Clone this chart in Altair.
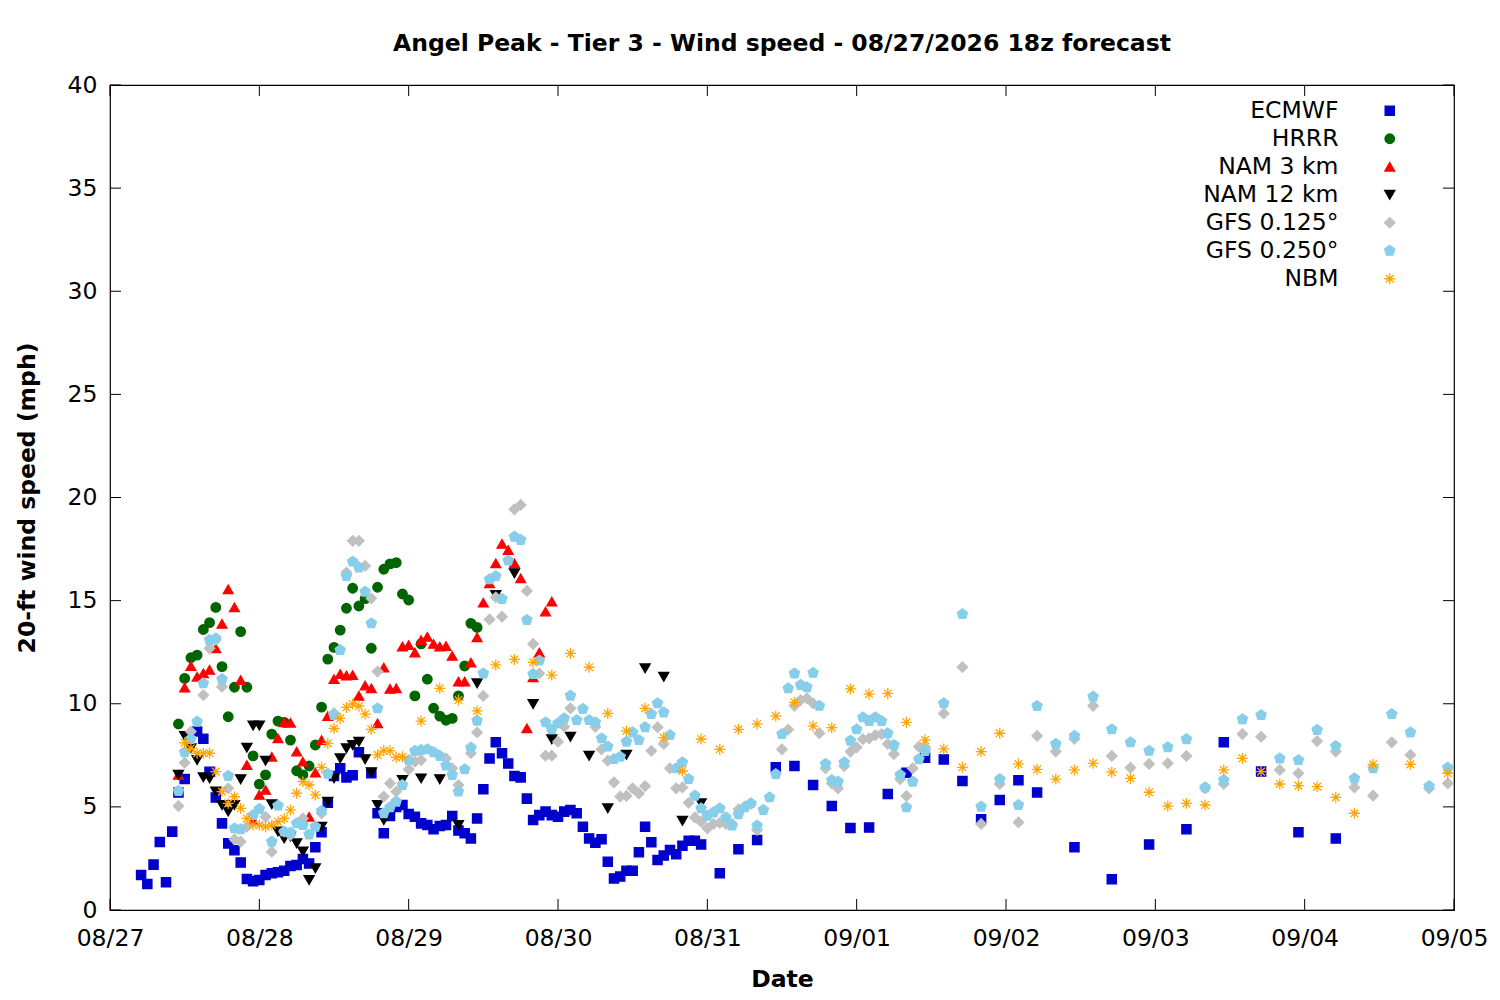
import pandas as pd
import altair as alt

# hours after 08/27 00z, 20-ft wind speed (mph)
series_names = ['ECMWF', 'HRRR', 'NAM 3 km', 'NAM 12 km', 'GFS 0.125°', 'GFS 0.250°', 'NBM']
series_colors = ['#0000cd', '#006400', '#ff0000', '#000000', '#c0c0c0', '#87ceeb', '#ffa500']

ecmwf_h = [5, 6, 7, 8, 9, 10, 11, 12, 14, 15, 16, 17, 18, 19, 20, 21, 22, 23, 24, 25, 26, 27, 28, 29, 30,
           31, 32, 33, 34, 35, 36, 37, 38, 39, 40, 42, 43, 44, 45, 46, 47, 48, 49, 50, 51, 52, 53, 54, 55,
           56, 57, 58, 59, 60, 61, 62, 63, 64, 65, 66, 67, 68, 69, 70, 71, 72, 73, 74, 75, 76, 77, 78, 79,
           80, 81, 82, 83, 84, 85, 86, 87, 88, 89, 90, 91, 92, 93, 94, 95, 98, 101, 104, 107, 110, 113, 116,
           119, 122, 125, 128, 131, 134, 137, 140, 143, 146, 149, 155, 161, 167, 173, 179, 185, 191, 197]
ecmwf_v = [1.7, 1.26, 2.2, 3.3, 1.35, 3.8, 5.7, 6.35, 8.65, 8.3, 6.7, 5.45, 4.2, 3.23, 2.9, 2.3, 1.5, 1.4,
           1.45, 1.7, 1.78, 1.83, 1.9, 2.13, 2.18, 2.47, 2.26, 3.04, 3.77, 5.2, 6.5, 6.87, 6.43, 6.53, 7.65,
           6.63, 4.69, 3.72, 4.56, 5.0, 5.09, 4.65, 4.52, 4.2, 4.12, 3.91, 4.07, 4.12, 4.56, 3.85, 3.72, 3.47,
           4.44, 5.85, 7.35, 8.13, 7.6, 7.1, 6.5, 6.43, 5.4, 4.36, 4.6, 4.77, 4.6, 4.52, 4.77, 4.85, 4.69,
           4.04, 3.47, 3.26, 3.43, 2.34, 1.53, 1.62, 1.9, 1.9, 2.8, 4.04, 3.28, 2.42, 2.64, 2.91, 2.7, 3.12,
           3.36, 3.36, 3.18, 1.78, 2.94, 3.39, 6.92, 6.98, 6.06, 5.04, 3.98, 4.0, 5.62, 6.66, 7.38, 7.3, 6.25,
           4.4, 5.33, 6.29, 5.7, 3.04, 1.49, 3.18, 3.91, 8.13, 6.71, 3.77, 3.47]

hrrr_h = [11, 12, 13, 14, 15, 16, 17, 18, 19, 20, 21, 22, 23, 24, 25, 26, 27, 28, 29, 30, 31, 32, 33, 34,
          35, 36, 37, 38, 39, 40, 41, 42, 43, 44, 45, 46, 47, 48, 49, 50, 51, 52, 53, 54, 55, 56, 57, 58, 59]
hrrr_v = [9.02, 11.23, 12.23, 12.36, 13.6, 13.93, 14.67, 11.8, 9.37, 10.8, 13.5, 10.8, 7.47, 6.1, 6.55,
          8.53, 9.16, 9.1, 8.24, 6.75, 6.55, 6.98, 8.0, 9.84, 12.16, 12.73, 13.57, 14.63, 15.6, 14.74, 15.1,
          12.69, 15.65, 16.52, 16.78, 16.84, 15.32, 15.03, 10.38, 12.9, 11.19, 9.78, 9.4, 9.2, 9.29, 10.38,
          11.83, 13.9, 13.7]

nam3_h = [11, 12, 13, 14, 15, 16, 17, 18, 19, 20, 21, 22, 23, 24, 25, 26, 27, 28, 29, 30, 31, 32, 33, 34,
          35, 36, 37, 38, 39, 40, 41, 42, 43, 44, 45, 46, 47, 48, 49, 50, 51, 52, 53, 54, 55, 56, 57, 58,
          59, 60, 61, 62, 63, 64, 65, 66, 67, 68, 69, 70, 71]
nam3_v = [6.55, 10.78, 11.83, 11.31, 11.47, 11.64, 12.69, 13.87, 15.55, 14.67, 11.15, 7.03, 4.36, 5.58,
          5.82, 7.43, 8.32, 9.1, 9.08, 7.68, 7.19, 4.52, 6.66, 8.24, 9.4, 11.19, 11.44, 11.37, 11.39, 10.38,
          10.88, 10.75, 9.05, 11.75, 10.72, 10.75, 12.77, 12.85, 12.48, 13.09, 13.25, 12.9, 12.77, 12.8,
          12.32, 11.07, 11.07, 12.0, 13.22, 14.9, 15.84, 16.81, 17.75, 17.45, 16.81, 16.08, 8.81, 11.28,
          12.48, 14.47, 14.95]

nam12_h = [11, 12, 13, 14, 15, 16, 17, 18, 19, 20, 21, 22, 23, 24, 25, 26, 27, 28, 29, 30, 31, 32, 33, 34,
           35, 36, 37, 38, 39, 40, 41, 42, 43, 44, 47, 50, 53, 56, 59, 62, 65, 68, 71, 74, 77, 80, 83, 86,
           89, 92, 95]
nam12_v = [6.55, 8.44, 7.84, 7.27, 6.43, 6.38, 5.74, 5.09, 4.77, 5.09, 6.34, 7.87, 8.94, 8.94, 7.24, 5.12,
           3.8, 3.47, 3.56, 3.23, 2.83, 1.45, 2.02, 4.04, 5.25, 6.38, 7.35, 7.84, 8.0, 8.16, 7.31, 6.68, 5.09,
           4.36, 6.3, 6.38, 6.34, 4.12, 10.99, 15.27, 16.32, 9.99, 8.28, 8.4, 7.48, 4.93, 7.52, 11.72, 11.31,
           4.33, 5.17]

gfs125_h = [11, 12, 13, 15, 16, 17, 18, 19, 20, 21, 22, 25, 26, 28, 29, 31, 34, 36, 38, 39, 40, 41, 42,
            43, 44, 45, 46, 48, 49, 50, 54, 55, 56, 58, 59, 60, 61, 62, 63, 65, 66, 67, 68, 69, 70, 71, 72,
            73, 74, 78, 79, 80, 81, 82, 83, 84, 85, 86, 87, 88, 89, 90, 91, 92, 93, 94, 95, 96, 97, 98, 99,
            100, 101, 102, 103, 104, 108, 109, 110, 111, 112, 113, 114, 115, 116, 117, 118, 119, 120, 121,
            122, 123, 124, 125, 126, 127, 128, 129, 130, 131, 134, 137, 140, 143, 146, 149, 152, 155, 158,
            161, 164, 167, 170, 173, 176, 179, 182, 185, 188, 191, 194, 197, 200, 203, 206, 209, 212, 215]
gfs125_v = [5.04, 7.14, 8.65, 10.42, 12.69, 13.1, 10.83, 5.9, 3.43, 3.31, 4.04, 4.52, 2.83, 3.8, 3.64,
            4.44, 4.69, 9.55, 16.36, 17.9, 17.9, 16.68, 15.11, 11.56, 5.5, 6.14, 5.74, 6.82, 7.19, 7.27,
            7.35, 6.87, 6.06, 7.6, 8.61, 10.38, 14.09, 15.16, 14.22, 19.43, 19.64, 15.47, 12.9, 11.47, 7.48,
            7.48, 8.16, 8.89, 9.78, 8.88, 7.79, 7.24, 6.19, 5.5, 5.53, 5.9, 5.65, 6.01, 7.72, 8.86, 8.05,
            6.87, 5.9, 5.94, 5.2, 4.49, 4.28, 3.96, 4.17, 4.23, 4.17, 4.17, 4.88, 5.01, 5.14, 3.88, 7.79,
            8.75, 9.9, 10.18, 10.26, 10.02, 8.57, 6.87, 6.14, 5.9, 6.98, 7.68, 7.89, 8.28, 8.32, 8.48, 8.53,
            8.05, 7.56, 6.34, 5.53, 6.87, 7.92, 7.9, 9.53, 11.77, 4.17, 6.11, 4.25, 8.44, 7.68, 8.3, 9.9,
            7.47, 6.9, 7.08, 7.11, 7.47, 5.9, 6.11, 8.53, 8.4, 6.79, 6.63, 8.19, 7.68, 5.94, 5.54, 8.13,
            7.52, 5.9, 6.14]

gfs250_h = [11, 12, 13, 14, 15, 16, 17, 18, 19, 20, 21, 23, 24, 26, 27, 28, 29, 30, 31, 32, 33, 34, 35,
            36, 37, 38, 39, 40, 41, 42, 43, 44, 45, 46, 47, 48, 49, 50, 51, 52, 53, 54, 55, 56, 57, 58, 59,
            60, 61, 62, 63, 64, 65, 66, 67, 68, 69, 70, 71, 72, 73, 74, 75, 76, 77, 78, 79, 80, 81, 82, 83,
            84, 85, 86, 87, 88, 89, 90, 91, 92, 93, 94, 95, 96, 97, 98, 99, 100, 101, 102, 103, 104, 105,
            106, 107, 108, 109, 110, 111, 112, 113, 114, 115, 116, 117, 118, 119, 120, 121, 122, 123, 124,
            125, 126, 127, 128, 129, 130, 131, 134, 137, 140, 143, 146, 149, 152, 155, 158, 161, 164, 167,
            170, 173, 176, 179, 182, 185, 188, 191, 194, 197, 200, 203, 206, 209, 212, 215]
gfs250_v = [5.77, 7.65, 8.29, 9.13, 10.99, 13.09, 13.17, 11.19, 6.5, 3.96, 3.91, 4.6, 4.9, 3.31, 5.06, 3.8,
            3.75, 4.2, 4.12, 3.66, 4.04, 4.81, 6.6, 9.45, 12.6, 16.19, 16.89, 16.61, 15.43, 13.9, 9.78,
            4.69, 4.98, 5.25, 6.06, 7.27, 7.71, 7.76, 7.79, 7.65, 7.47, 7.0, 6.55, 5.74, 6.82, 7.87, 9.18,
            11.47, 16.03, 16.19, 15.08, 16.94, 18.1, 17.94, 14.06, 11.44, 12.09, 9.1, 8.76, 9.05, 9.29,
            10.39, 9.21, 9.75, 9.21, 9.1, 8.32, 7.92, 7.32, 7.43, 8.16, 8.61, 8.24, 8.86, 9.5, 10.02, 9.58,
            8.48, 6.87, 7.16, 6.35, 5.54, 4.93, 4.57, 4.73, 4.93, 4.49, 4.09, 4.64, 4.98, 5.17, 4.09, 4.85,
            5.46, 6.59, 8.53, 10.75, 11.47, 10.91, 10.8, 11.5, 9.9, 7.08, 6.3, 6.22, 7.16, 8.21, 8.76, 9.34,
            9.16, 9.34, 9.16, 8.57, 8.0, 6.55, 4.98, 6.22, 7.31, 7.71, 10.02, 14.35, 5.01, 6.34, 5.09, 9.89,
            8.05, 8.44, 10.34, 8.76, 8.13, 7.72, 7.89, 8.28, 5.94, 6.3, 9.25, 9.45, 7.35, 7.27, 8.73, 7.95,
            6.38, 6.87, 9.5, 8.61, 6.01, 6.9]

nbm_h = [12, 13, 14, 15, 16, 17, 18, 19, 20, 21, 22, 23, 24, 25, 26, 27, 28, 29, 30, 31, 32, 33, 34, 35,
         36, 37, 38, 39, 40, 41, 42, 43, 44, 45, 46, 47, 50, 53, 56, 59, 62, 65, 68, 71, 74, 77, 80, 83, 86,
         89, 92, 95, 98, 101, 104, 107, 110, 113, 116, 119, 122, 125, 128, 131, 134, 137, 140, 143, 146,
         149, 152, 155, 158, 161, 164, 167, 170, 173, 176, 179, 182, 185, 188, 191, 194, 197, 200, 203,
         209, 215]
nbm_v = [8.11, 7.84, 7.6, 7.6, 7.6, 6.71, 5.74, 5.17, 5.49, 4.93, 4.44, 4.12, 4.12, 4.04, 4.12, 4.28, 4.44,
         4.85, 5.66, 6.22, 6.06, 5.58, 6.92, 8.08, 8.8, 9.29, 9.82, 9.99, 9.89, 9.5, 8.76, 7.52, 7.72, 7.72,
         7.4, 7.43, 9.16, 10.75, 10.18, 9.65, 11.88, 12.15, 12.01, 11.39, 12.44, 11.77, 9.53, 8.68, 9.78,
         8.36, 6.74, 8.29, 7.79, 8.76, 9.02, 9.4, 10.07, 8.92, 8.84, 10.72, 10.47, 10.5, 9.1, 8.24, 7.81,
         6.92, 7.68, 8.57, 7.08, 6.82, 6.35, 6.79, 7.11, 6.68, 6.38, 5.71, 5.04, 5.17, 5.09, 6.79, 7.35,
         6.71, 6.11, 6.03, 5.98, 5.46, 4.69, 7.06, 7.06, 6.63]

day_labels = ['08/27', '08/28', '08/29', '08/30', '08/31', '09/01', '09/02', '09/03', '09/04', '09/05']
x_ticks = [0, 24, 48, 72, 96, 120, 144, 168, 192, 216]
y_ticks = [0, 5, 10, 15, 20, 25, 30, 35, 40]

all_h = [ecmwf_h, hrrr_h, nam3_h, nam12_h, gfs125_h, gfs250_h, nbm_h]
all_v = [ecmwf_v, hrrr_v, nam3_v, nam12_v, gfs125_v, gfs250_v, nbm_v]
frames = []
for name, hh, vv in zip(series_names, all_h, all_v):
    frames.append(pd.DataFrame({'hour': hh, 'speed': vv, 'model': name}))
df = pd.concat(frames, ignore_index=True)

pentagon = 'M0,-1L0.951,-0.309L0.588,0.809L-0.588,0.809L-0.951,-0.309Z'
asterisk = 'M0,-1L0,1M-1,0L1,0M-0.7,-0.7L0.7,0.7M-0.7,0.7L0.7,-0.7'
shapes = ['square', 'circle', 'triangle-up', 'triangle-down', 'diamond', pentagon, asterisk]
sizes = [85, 120, 150, 150, 110, 130, 190]

W, H = 1344, 825
FONT = 'DejaVu Sans'
FS = 23.5
label_js = '[' + ','.join("'%s'" % d for d in day_labels) + ']'

model_scale = dict(domain=series_names)

points = alt.Chart(df).mark_point(filled=False, opacity=1, strokeWidth=1.3).encode(
    x=alt.X('hour:Q', scale=alt.Scale(domain=[0, 216], nice=False, zero=False),
            axis=alt.Axis(values=x_ticks, labelExpr=label_js + '[round(datum.value/24)]',
                          title='Date', tickSize=0, labelPadding=16, domain=False, grid=False,
                          labelFlush=False, labelOverlap=False,
                          titleX=W / 2, titleY=76, titleBaseline='alphabetic')),
    y=alt.Y('speed:Q', scale=alt.Scale(domain=[0, 40], nice=False),
            axis=alt.Axis(values=y_ticks, title='20-ft wind speed (mph)', tickSize=0,
                          labelPadding=13, domain=False, grid=False, titleAngle=270,
                          labelFlush=False,
                          titleX=-76, titleY=H / 2, titleBaseline='alphabetic', titleAlign='center')),
    color=alt.Color('model:N', scale=alt.Scale(range=series_colors, **model_scale),
                    legend=alt.Legend(title=None, orient='none', legendX=1268, legendY=14)),
    fill=alt.Fill('model:N', scale=alt.Scale(range=series_colors, **model_scale)),
    shape=alt.Shape('model:N', scale=alt.Scale(range=shapes, **model_scale)),
    size=alt.Size('model:N', scale=alt.Scale(range=sizes, **model_scale), legend=None),
)

ydf = pd.DataFrame({'v': y_ticks})
xdf = pd.DataFrame({'t': x_ticks})
tick_len = 11
yt_left = alt.Chart(ydf).mark_rule(color='black').encode(
    y='v:Q', x=alt.value(0), x2=alt.value(tick_len))
yt_right = alt.Chart(ydf).mark_rule(color='black').encode(
    y='v:Q', x=alt.value(W - tick_len), x2=alt.value(W))
xt_bottom = alt.Chart(xdf).mark_rule(color='black').encode(
    x='t:Q', y=alt.value(H - tick_len), y2=alt.value(H))
xt_top = alt.Chart(xdf).mark_rule(color='black').encode(
    x='t:Q', y=alt.value(0), y2=alt.value(tick_len))

chart = alt.layer(yt_left, yt_right, xt_bottom, xt_top, points).properties(
    width=W, height=H,
    title=alt.Title('Angel Peak - Tier 3 - Wind speed - 08/27/2026 18z forecast'),
    autosize=alt.AutoSizeParams(type='none'),
    padding={'left': 102, 'top': 77, 'right': 36, 'bottom': 82},
).configure_view(
    stroke='black', strokeWidth=1.2
).configure_axis(
    labelFont=FONT, labelFontSize=FS, labelColor='black',
    titleFont=FONT, titleFontSize=FS, titleFontWeight='bold', titleColor='black'
).configure_title(
    font=FONT, fontSize=FS, fontWeight='bold', color='black', anchor='middle',
    offset=33, baseline='alphabetic', dy=15
).configure_legend(
    labelFont=FONT, labelFontSize=FS, labelColor='black', labelAlign='right',
    labelOffset={'expr': '-63'}, symbolSize=90, rowPadding=3, padding=0, labelLimit=400,
    symbolStrokeWidth=1.3
)

chart.save('out.html', embed_options={'renderer': 'svg', 'actions': False})
